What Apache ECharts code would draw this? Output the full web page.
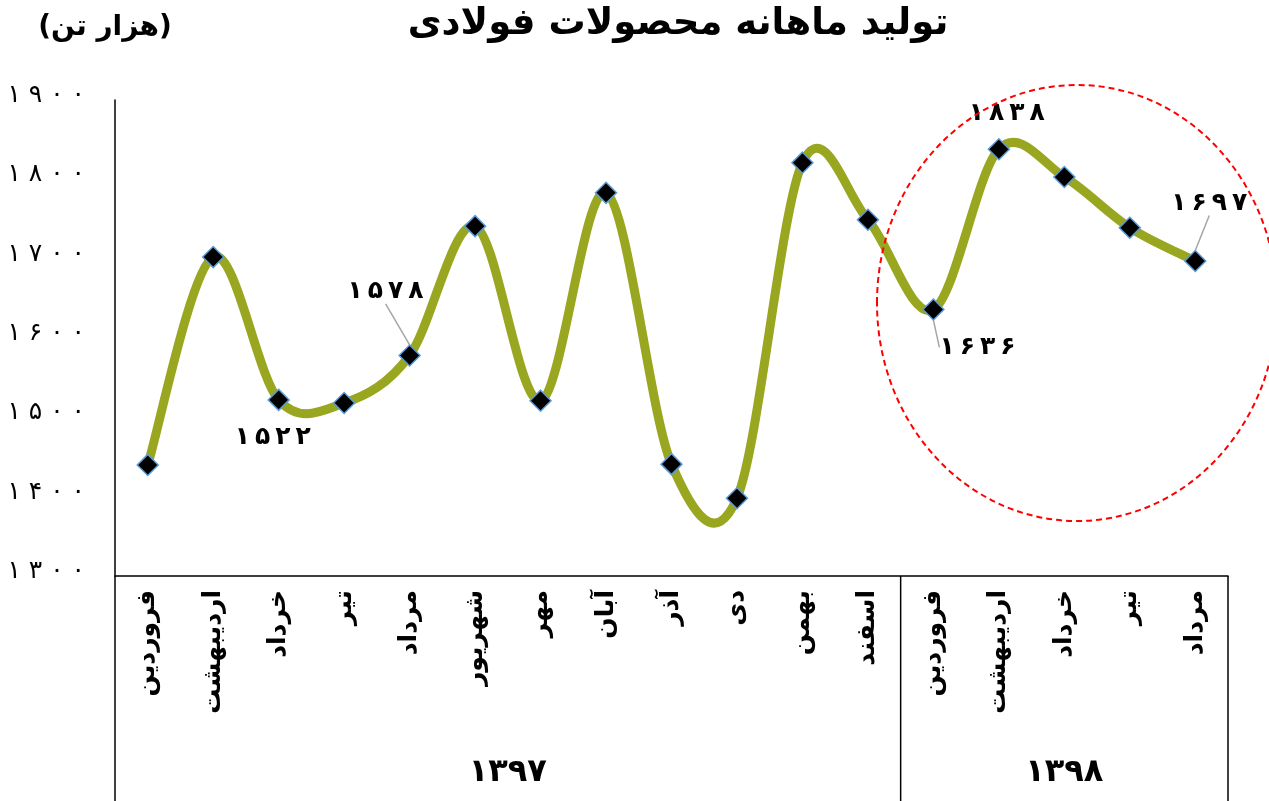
<!DOCTYPE html>
<html>
<head>
<meta charset="utf-8">
<script src="https://cdn.jsdelivr.net/npm/echarts@6/dist/echarts.min.js"></script>
<style>
html,body{margin:0;padding:0;background:#fff;}
#main{width:1269px;height:801px;}
</style>
</head>
<body>
<div id="main"></div>
<script>
var months = ['فروردین','اردیبهشت','خرداد','تیر','مرداد','شهریور','مهر','آبان','آذر','دی','بهمن','اسفند','فروردین','اردیبهشت','خرداد','تیر','مرداد'];
var production = [1440,1702,1522,1518,1578,1741,1521,1783,1441,1398,1821,1749,1636,1838,1803,1739,1697];
var years = ['۱۳۹۷','۱۳۹۸'];
var yearSizes = [12,5];
var labeled = [2,4,12,13,16];
var yMin = 1300, yMax = 1900, yStep = 100;

// label offsets for the annotated points (dx, dy, leader line)
var labelPos = {
    2:  {dx:-6, dy:38, line:false},
    4:  {dx:-24, dy:-64, line:true},
    12: {dx:44, dy:38, line:true},
    13: {dx:8, dy:-36, line:false},
    16: {dx:14, dy:-58, line:true}
};

function fa(v){
    return String(v).replace(/\d/g,function(d){ return '۰۱۲۳۴۵۶۷۸۹'[d]; });
}
function spaced(v, sep){
    return fa(v).split('').join(sep || '\u2009');
}

var font = 'DejaVu Sans';
var lineColor = '#99a61f';
var chart = echarts.init(document.getElementById('main'));

var seriesData = production.map(function(v,i){
    var item = {value:v};
    if(labeled.indexOf(i) >= 0){
        item.label = {show:true};
        item.labelLine = {show: labelPos[i].line};
    }
    return item;
});

// Excel-like smoothed line (Catmull-Rom through the data points, via the axis scales)
function renderCurve(params, api){
    if(params.dataIndex !== 0) return;
    var n = production.length;
    var pts = production.map(function(v,i){ return api.coord([i, v]); });
    var t = 1/6;
    var d = 'M' + pts[0][0] + ' ' + pts[0][1];
    for(var i=0;i<n-1;i++){
        var p0 = pts[Math.max(i-1,0)], p1 = pts[i], p2 = pts[i+1], p3 = pts[Math.min(i+2,n-1)];
        var c1x = p1[0] + (p2[0]-p0[0])*t, c1y = p1[1] + (p2[1]-p0[1])*t;
        var c2x = p2[0] - (p3[0]-p1[0])*t, c2y = p2[1] - (p3[1]-p1[1])*t;
        d += ' C' + c1x + ' ' + c1y + ' ' + c2x + ' ' + c2y + ' ' + p2[0] + ' ' + p2[1];
    }
    return {
        type:'path',
        shape:{pathData:d},
        style:{fill:'none', stroke:lineColor, lineWidth:9, lineCap:'round', lineJoin:'round'}
    };
}

var option = {
    animation:false,
    backgroundColor:'#fff',
    grid:{left:115, right:41, top:100, bottom:225, containLabel:false},
    xAxis:{
        type:'category',
        data:months,
        boundaryGap:true,
        axisLine:{show:true, lineStyle:{color:'#000', width:1.5}},
        axisTick:{show:false},
        axisLabel:{
            rotate:90, margin:14, interval:0,
            fontFamily:font, fontWeight:'bold', fontSize:25, color:'#000'
        },
        splitLine:{show:false}
    },
    yAxis:{
        type:'value',
        min:yMin, max:yMax, interval:yStep,
        axisLine:{show:true, lineStyle:{color:'#000', width:1.5}},
        axisTick:{show:false},
        splitLine:{show:false},
        axisLabel:{
            margin:30, fontFamily:font, fontSize:25, color:'#000',
            verticalAlign:'bottom', lineHeight:9,
            formatter:function(v){ return spaced(v, ' '); }
        }
    },
    series:[{
        type:'custom',
        data:production.map(function(v,i){ return [i, v]; }),
        renderItem:renderCurve,
        silent:true,
        z:2
    },{
        type:'line',
        data:seriesData,
        symbol:'diamond',
        symbolSize:21,
        lineStyle:{width:0, opacity:0},
        itemStyle:{color:'#000', borderColor:'#5b9bd5', borderWidth:1.5},
        label:{
            show:false,
            position:'inside',
            fontFamily:font, fontWeight:'bold', fontSize:25, color:'#000',
            formatter:function(p){ return spaced(p.value); }
        },
        labelLine:{show:false, lineStyle:{color:'#a6a6a6', width:1.5}},
        labelLayout:function(p){
            var o = labelPos[p.dataIndex];
            if(!o) return {};
            return {dx:o.dx, dy:o.dy};
        },
        z:3
    }]
};
chart.setOption(option);

// group separators and year labels below the month labels
var xa = chart.convertToPixel({xAxisIndex:0}, 0);
var xb = chart.convertToPixel({xAxisIndex:0}, 1);
var band = xb - xa;
var yBase = chart.convertToPixel({yAxisIndex:0}, yMin);
var graphics = [];
var start = 0;
function edge(i){ return xa + (i - 0.5) * band; }
graphics.push({type:'line', shape:{x1:edge(0), y1:yBase, x2:edge(0), y2:801}, style:{stroke:'#000', lineWidth:1.5}});
for(var g=0; g<years.length; g++){
    var end = start + yearSizes[g];
    graphics.push({type:'line', shape:{x1:edge(end), y1:yBase, x2:edge(end), y2:801}, style:{stroke:'#000', lineWidth:1.5}});
    graphics.push({type:'text', x:(edge(start)+edge(end))/2, y:773,
        style:{text:years[g], font:'bold 32px "DejaVu Sans"', fill:'#000', textAlign:'center', textVerticalAlign:'middle'}});
    start = end;
}
graphics.push({type:'text', x:678, y:24,
    style:{text:'تولید ماهانه محصولات فولادی', font:'bold 37px "DejaVu Sans"', fill:'#000', textAlign:'center', textVerticalAlign:'middle'}});
graphics.push({type:'text', x:105, y:28,
    style:{text:'(هزار تن)', font:'bold 28px "DejaVu Sans"', fill:'#000', textAlign:'center', textVerticalAlign:'middle'}});
graphics.push({type:'ellipse', shape:{cx:1077, cy:303, rx:200, ry:218},
    style:{fill:'none', stroke:'#ff0000', lineWidth:2, lineDash:[6,4]}, z:10});
chart.setOption({graphic:graphics});
</script>
</body>
</html>
